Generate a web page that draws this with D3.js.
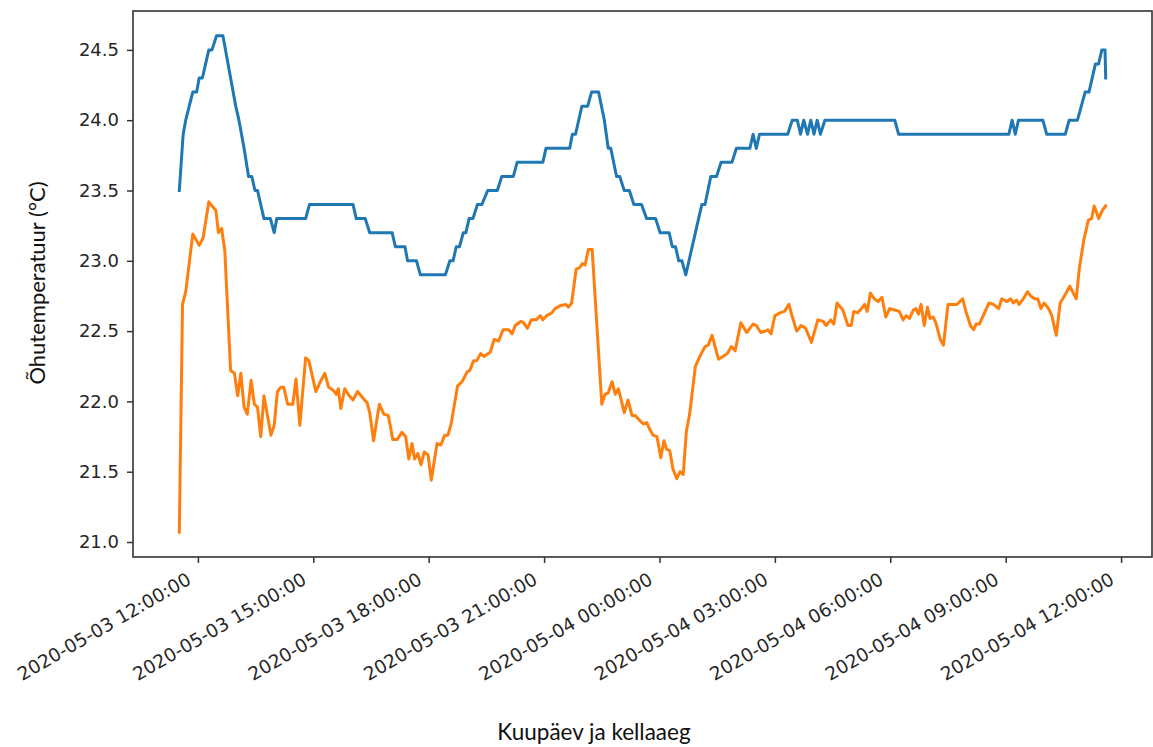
<!DOCTYPE html>
<html>
<head>
<meta charset="utf-8">
<script src="https://cdn.jsdelivr.net/npm/d3@7"></script>
<style>
  html, body { margin: 0; padding: 0; background: #fff; }
  svg { display: block; }
</style>
</head>
<body>
<svg id="chart" width="1153" height="747"></svg>
<script>
// Air temperature, two sensors, 3–4 May 2020
const upperSensor = [
  ["2020-05-03 11:31", 23.5], ["2020-05-03 11:37", 23.9], ["2020-05-03 11:41", 24.0],
  ["2020-05-03 11:52", 24.2], ["2020-05-03 11:58", 24.2], ["2020-05-03 12:02", 24.3],
  ["2020-05-03 12:07", 24.3], ["2020-05-03 12:17", 24.5], ["2020-05-03 12:22", 24.5],
  ["2020-05-03 12:29", 24.6], ["2020-05-03 12:39", 24.6], ["2020-05-03 12:51", 24.3],
  ["2020-05-03 12:59", 24.1], ["2020-05-03 13:04", 24.0], ["2020-05-03 13:12", 23.8],
  ["2020-05-03 13:19", 23.6], ["2020-05-03 13:24", 23.6], ["2020-05-03 13:29", 23.5],
  ["2020-05-03 13:33", 23.5], ["2020-05-03 13:43", 23.3], ["2020-05-03 13:53", 23.3],
  ["2020-05-03 13:59", 23.2], ["2020-05-03 14:03", 23.3], ["2020-05-03 14:48", 23.3],
  ["2020-05-03 14:54", 23.4], ["2020-05-03 16:02", 23.4], ["2020-05-03 16:07", 23.3],
  ["2020-05-03 16:21", 23.3], ["2020-05-03 16:28", 23.2], ["2020-05-03 17:03", 23.2],
  ["2020-05-03 17:08", 23.1], ["2020-05-03 17:23", 23.1], ["2020-05-03 17:27", 23.0],
  ["2020-05-03 17:41", 23.0], ["2020-05-03 17:47", 22.9], ["2020-05-03 18:26", 22.9],
  ["2020-05-03 18:33", 23.0], ["2020-05-03 18:38", 23.0], ["2020-05-03 18:43", 23.1],
  ["2020-05-03 18:48", 23.1], ["2020-05-03 18:54", 23.2], ["2020-05-03 18:58", 23.2],
  ["2020-05-03 19:03", 23.3], ["2020-05-03 19:09", 23.3], ["2020-05-03 19:16", 23.4],
  ["2020-05-03 19:23", 23.4], ["2020-05-03 19:32", 23.5], ["2020-05-03 19:47", 23.5],
  ["2020-05-03 19:54", 23.6], ["2020-05-03 20:12", 23.6], ["2020-05-03 20:18", 23.7],
  ["2020-05-03 20:58", 23.7], ["2020-05-03 21:03", 23.8], ["2020-05-03 21:40", 23.8],
  ["2020-05-03 21:44", 23.9], ["2020-05-03 21:49", 23.9], ["2020-05-03 21:59", 24.1],
  ["2020-05-03 22:08", 24.1], ["2020-05-03 22:14", 24.2], ["2020-05-03 22:25", 24.2],
  ["2020-05-03 22:34", 24.0], ["2020-05-03 22:40", 23.8], ["2020-05-03 22:44", 23.8],
  ["2020-05-03 22:53", 23.6], ["2020-05-03 22:58", 23.6], ["2020-05-03 23:05", 23.5],
  ["2020-05-03 23:13", 23.5], ["2020-05-03 23:20", 23.4], ["2020-05-03 23:32", 23.4],
  ["2020-05-03 23:40", 23.3], ["2020-05-03 23:54", 23.3], ["2020-05-04 00:01", 23.2],
  ["2020-05-04 00:15", 23.2], ["2020-05-04 00:20", 23.1], ["2020-05-04 00:25", 23.1],
  ["2020-05-04 00:30", 23.0], ["2020-05-04 00:35", 23.0], ["2020-05-04 00:41", 22.9],
  ["2020-05-04 01:06", 23.4], ["2020-05-04 01:11", 23.4], ["2020-05-04 01:20", 23.6],
  ["2020-05-04 01:29", 23.6], ["2020-05-04 01:36", 23.7], ["2020-05-04 01:53", 23.7],
  ["2020-05-04 02:00", 23.8], ["2020-05-04 02:21", 23.8], ["2020-05-04 02:26", 23.9],
  ["2020-05-04 02:31", 23.8], ["2020-05-04 02:36", 23.9], ["2020-05-04 03:20", 23.9],
  ["2020-05-04 03:27", 24.0], ["2020-05-04 03:35", 24.0], ["2020-05-04 03:40", 23.9],
  ["2020-05-04 03:45", 24.0], ["2020-05-04 03:51", 23.9], ["2020-05-04 03:56", 24.0],
  ["2020-05-04 04:01", 23.9], ["2020-05-04 04:06", 24.0], ["2020-05-04 04:11", 23.9],
  ["2020-05-04 04:18", 24.0], ["2020-05-04 06:07", 24.0], ["2020-05-04 06:13", 23.9],
  ["2020-05-04 09:05", 23.9], ["2020-05-04 09:10", 24.0], ["2020-05-04 09:15", 23.9],
  ["2020-05-04 09:20", 24.0], ["2020-05-04 09:58", 24.0], ["2020-05-04 10:04", 23.9],
  ["2020-05-04 10:33", 23.9], ["2020-05-04 10:39", 24.0], ["2020-05-04 10:52", 24.0],
  ["2020-05-04 11:04", 24.2], ["2020-05-04 11:10", 24.2], ["2020-05-04 11:20", 24.4],
  ["2020-05-04 11:25", 24.4], ["2020-05-04 11:30", 24.5], ["2020-05-04 11:35", 24.5],
  ["2020-05-04 11:36", 24.3]
];

const lowerSensor = [
  ["2020-05-03 11:31", 21.07], ["2020-05-03 11:36", 22.69], ["2020-05-03 11:41", 22.78],
  ["2020-05-03 11:52", 23.19], ["2020-05-03 12:02", 23.11], ["2020-05-03 12:08", 23.16],
  ["2020-05-03 12:17", 23.42], ["2020-05-03 12:20", 23.40], ["2020-05-03 12:28", 23.36],
  ["2020-05-03 12:32", 23.20], ["2020-05-03 12:37", 23.23], ["2020-05-03 12:42", 23.07],
  ["2020-05-03 12:51", 22.22], ["2020-05-03 12:57", 22.20], ["2020-05-03 13:02", 22.04],
  ["2020-05-03 13:07", 22.20], ["2020-05-03 13:12", 21.96], ["2020-05-03 13:17", 21.91],
  ["2020-05-03 13:23", 22.15], ["2020-05-03 13:28", 21.98], ["2020-05-03 13:33", 21.96],
  ["2020-05-03 13:38", 21.75], ["2020-05-03 13:43", 22.04], ["2020-05-03 13:54", 21.76],
  ["2020-05-03 13:59", 21.83], ["2020-05-03 14:04", 22.07], ["2020-05-03 14:09", 22.10],
  ["2020-05-03 14:14", 22.10], ["2020-05-03 14:20", 21.98], ["2020-05-03 14:28", 21.98],
  ["2020-05-03 14:33", 22.16], ["2020-05-03 14:39", 21.83], ["2020-05-03 14:48", 22.31],
  ["2020-05-03 14:53", 22.29], ["2020-05-03 15:04", 22.07], ["2020-05-03 15:11", 22.14],
  ["2020-05-03 15:18", 22.20], ["2020-05-03 15:24", 22.10], ["2020-05-03 15:31", 22.08],
  ["2020-05-03 15:36", 22.05], ["2020-05-03 15:39", 22.09], ["2020-05-03 15:43", 21.95],
  ["2020-05-03 15:49", 22.09], ["2020-05-03 15:56", 22.04], ["2020-05-03 16:02", 22.01],
  ["2020-05-03 16:09", 22.07], ["2020-05-03 16:20", 22.01], ["2020-05-03 16:24", 21.99],
  ["2020-05-03 16:28", 21.92], ["2020-05-03 16:34", 21.72], ["2020-05-03 16:43", 21.98],
  ["2020-05-03 16:50", 21.91], ["2020-05-03 16:57", 21.90], ["2020-05-03 17:04", 21.73],
  ["2020-05-03 17:11", 21.73], ["2020-05-03 17:18", 21.78], ["2020-05-03 17:24", 21.75],
  ["2020-05-03 17:29", 21.59], ["2020-05-03 17:34", 21.70], ["2020-05-03 17:38", 21.59],
  ["2020-05-03 17:43", 21.63], ["2020-05-03 17:48", 21.55], ["2020-05-03 17:53", 21.64],
  ["2020-05-03 17:59", 21.62], ["2020-05-03 18:04", 21.44], ["2020-05-03 18:13", 21.70],
  ["2020-05-03 18:19", 21.69], ["2020-05-03 18:25", 21.76], ["2020-05-03 18:30", 21.76],
  ["2020-05-03 18:35", 21.84], ["2020-05-03 18:45", 22.11], ["2020-05-03 18:52", 22.14],
  ["2020-05-03 19:00", 22.21], ["2020-05-03 19:04", 22.22], ["2020-05-03 19:10", 22.29],
  ["2020-05-03 19:15", 22.29], ["2020-05-03 19:21", 22.34], ["2020-05-03 19:26", 22.32],
  ["2020-05-03 19:36", 22.35], ["2020-05-03 19:42", 22.44], ["2020-05-03 19:49", 22.43],
  ["2020-05-03 19:56", 22.51], ["2020-05-03 20:05", 22.51], ["2020-05-03 20:10", 22.48],
  ["2020-05-03 20:15", 22.54], ["2020-05-03 20:24", 22.57], ["2020-05-03 20:28", 22.56],
  ["2020-05-03 20:34", 22.52], ["2020-05-03 20:40", 22.58], ["2020-05-03 20:48", 22.58],
  ["2020-05-03 20:54", 22.61], ["2020-05-03 20:58", 22.58], ["2020-05-03 21:04", 22.61],
  ["2020-05-03 21:12", 22.63], ["2020-05-03 21:17", 22.66], ["2020-05-03 21:25", 22.68],
  ["2020-05-03 21:34", 22.69], ["2020-05-03 21:38", 22.67], ["2020-05-03 21:43", 22.70],
  ["2020-05-03 21:50", 22.94], ["2020-05-03 21:55", 22.95], ["2020-05-03 22:00", 22.98],
  ["2020-05-03 22:04", 22.97], ["2020-05-03 22:09", 23.08], ["2020-05-03 22:15", 23.08],
  ["2020-05-03 22:30", 21.98], ["2020-05-03 22:35", 22.05], ["2020-05-03 22:40", 22.06],
  ["2020-05-03 22:46", 22.14], ["2020-05-03 22:51", 22.05], ["2020-05-03 22:56", 22.09],
  ["2020-05-03 23:05", 21.92], ["2020-05-03 23:11", 22.01], ["2020-05-03 23:17", 21.90],
  ["2020-05-03 23:22", 21.90], ["2020-05-03 23:30", 21.86], ["2020-05-03 23:35", 21.84],
  ["2020-05-03 23:40", 21.85], ["2020-05-03 23:45", 21.80], ["2020-05-03 23:50", 21.76],
  ["2020-05-03 23:56", 21.75], ["2020-05-04 00:02", 21.60], ["2020-05-04 00:07", 21.72],
  ["2020-05-04 00:11", 21.66], ["2020-05-04 00:16", 21.65], ["2020-05-04 00:21", 21.52],
  ["2020-05-04 00:27", 21.45], ["2020-05-04 00:32", 21.50], ["2020-05-04 00:37", 21.48],
  ["2020-05-04 00:42", 21.79], ["2020-05-04 00:47", 21.91], ["2020-05-04 00:56", 22.25],
  ["2020-05-04 01:03", 22.32], ["2020-05-04 01:11", 22.39], ["2020-05-04 01:16", 22.40],
  ["2020-05-04 01:22", 22.47], ["2020-05-04 01:32", 22.30], ["2020-05-04 01:39", 22.32],
  ["2020-05-04 01:46", 22.34], ["2020-05-04 01:52", 22.39], ["2020-05-04 01:58", 22.36],
  ["2020-05-04 02:07", 22.56], ["2020-05-04 02:16", 22.49], ["2020-05-04 02:26", 22.55],
  ["2020-05-04 02:31", 22.54], ["2020-05-04 02:38", 22.49], ["2020-05-04 02:45", 22.50],
  ["2020-05-04 02:49", 22.51], ["2020-05-04 02:54", 22.48], ["2020-05-04 03:00", 22.61],
  ["2020-05-04 03:08", 22.63], ["2020-05-04 03:15", 22.64], ["2020-05-04 03:22", 22.69],
  ["2020-05-04 03:26", 22.62], ["2020-05-04 03:34", 22.50], ["2020-05-04 03:41", 22.54],
  ["2020-05-04 03:48", 22.52], ["2020-05-04 03:57", 22.42], ["2020-05-04 04:07", 22.58],
  ["2020-05-04 04:15", 22.57], ["2020-05-04 04:20", 22.54], ["2020-05-04 04:27", 22.58],
  ["2020-05-04 04:32", 22.55], ["2020-05-04 04:37", 22.70], ["2020-05-04 04:46", 22.65],
  ["2020-05-04 04:54", 22.54], ["2020-05-04 04:59", 22.54], ["2020-05-04 05:03", 22.64],
  ["2020-05-04 05:09", 22.63], ["2020-05-04 05:15", 22.66], ["2020-05-04 05:20", 22.69],
  ["2020-05-04 05:24", 22.64], ["2020-05-04 05:29", 22.77], ["2020-05-04 05:35", 22.73],
  ["2020-05-04 05:41", 22.71], ["2020-05-04 05:47", 22.74], ["2020-05-04 05:53", 22.60],
  ["2020-05-04 05:59", 22.66], ["2020-05-04 06:07", 22.65], ["2020-05-04 06:14", 22.64],
  ["2020-05-04 06:20", 22.58], ["2020-05-04 06:25", 22.61], ["2020-05-04 06:30", 22.59],
  ["2020-05-04 06:36", 22.65], ["2020-05-04 06:40", 22.66], ["2020-05-04 06:44", 22.62],
  ["2020-05-04 06:48", 22.69], ["2020-05-04 06:53", 22.54], ["2020-05-04 06:58", 22.67],
  ["2020-05-04 07:02", 22.59], ["2020-05-04 07:07", 22.60], ["2020-05-04 07:11", 22.56],
  ["2020-05-04 07:18", 22.44], ["2020-05-04 07:23", 22.40], ["2020-05-04 07:30", 22.69],
  ["2020-05-04 07:37", 22.69], ["2020-05-04 07:44", 22.69], ["2020-05-04 07:53", 22.73],
  ["2020-05-04 07:58", 22.64], ["2020-05-04 08:05", 22.54], ["2020-05-04 08:10", 22.51],
  ["2020-05-04 08:14", 22.55], ["2020-05-04 08:19", 22.55], ["2020-05-04 08:27", 22.63],
  ["2020-05-04 08:34", 22.70], ["2020-05-04 08:41", 22.69], ["2020-05-04 08:49", 22.66],
  ["2020-05-04 08:54", 22.73], ["2020-05-04 09:02", 22.71], ["2020-05-04 09:08", 22.73],
  ["2020-05-04 09:12", 22.70], ["2020-05-04 09:17", 22.72], ["2020-05-04 09:21", 22.69],
  ["2020-05-04 09:29", 22.74], ["2020-05-04 09:34", 22.78], ["2020-05-04 09:39", 22.75],
  ["2020-05-04 09:45", 22.73], ["2020-05-04 09:50", 22.73], ["2020-05-04 09:55", 22.66],
  ["2020-05-04 10:00", 22.70], ["2020-05-04 10:07", 22.66], ["2020-05-04 10:12", 22.61],
  ["2020-05-04 10:19", 22.47], ["2020-05-04 10:25", 22.70], ["2020-05-04 10:33", 22.76],
  ["2020-05-04 10:40", 22.82], ["2020-05-04 10:50", 22.73], ["2020-05-04 10:55", 22.95],
  ["2020-05-04 11:02", 23.15], ["2020-05-04 11:09", 23.29], ["2020-05-04 11:14", 23.30],
  ["2020-05-04 11:18", 23.39], ["2020-05-04 11:25", 23.30], ["2020-05-04 11:31", 23.36],
  ["2020-05-04 11:36", 23.39]
];

const yTickValues = [21.0, 21.5, 22.0, 22.5, 23.0, 23.5, 24.0, 24.5];
const xTickTimes = [
  "2020-05-03 12:00", "2020-05-03 15:00", "2020-05-03 18:00", "2020-05-03 21:00",
  "2020-05-04 00:00", "2020-05-04 03:00", "2020-05-04 06:00", "2020-05-04 09:00",
  "2020-05-04 12:00"
];
const seriesColors = ["#1f77b4", "#ff7f0e"];
const yTitle = "Õhutemperatuur (°C)";
const xTitle = "Kuupäev ja kellaaeg";

const parseTime = d3.timeParse("%Y-%m-%d %H:%M");
const series = [upperSensor, lowerSensor].map(s => s.map(([t, v]) => ({ t: parseTime(t), v })));

const svg = d3.select("#chart");
const plot = { left: 133, right: 1152, top: 11, bottom: 557 };

// Domains padded by 5% on each side of the data extent
const all = series.flat();
const [t0, t1] = d3.extent(all, d => d.t);
const tPad = (t1 - t0) * 0.05;
const [v0, v1] = d3.extent(all, d => d.v);
const vPad = (v1 - v0) * 0.05;

const x = d3.scaleTime()
  .domain([new Date(+t0 - tPad), new Date(+t1 + tPad)])
  .range([plot.left, plot.right]);
const y = d3.scaleLinear()
  .domain([v0 - vPad, v1 + vPad])
  .range([plot.bottom, plot.top]);

const line = d3.line().x(d => x(d.t)).y(d => y(d.v));

svg.append("g")
  .selectAll("path")
  .data(series)
  .join("path")
  .attr("fill", "none")
  .attr("stroke", (d, i) => seriesColors[i])
  .attr("stroke-width", 3)
  .attr("stroke-linejoin", "round")
  .attr("stroke-linecap", "square")
  .attr("d", line);

// Frame
svg.append("rect")
  .attr("x", plot.left).attr("y", plot.top)
  .attr("width", plot.right - plot.left).attr("height", plot.bottom - plot.top)
  .attr("fill", "none").attr("stroke", "#333").attr("stroke-width", 1.6);

// Y axis
const yAxis = d3.axisLeft(y)
  .tickValues(yTickValues)
  .tickFormat(d3.format(".1f"))
  .tickSize(6)
  .tickPadding(8);
const gy = svg.append("g").attr("transform", `translate(${plot.left},0)`).call(yAxis);
gy.select(".domain").remove();
gy.selectAll(".tick line").attr("stroke", "#333").attr("stroke-width", 1.5);
gy.selectAll(".tick text")
  .attr("fill", "#262626")
  .style("font-family", "'DejaVu Sans', sans-serif")
  .style("font-size", "18px");

// X axis
const xAxis = d3.axisBottom(x)
  .tickValues(xTickTimes.map(parseTime))
  .tickFormat(d3.timeFormat("%Y-%m-%d %H:%M:%S"))
  .tickSize(6);
const gx = svg.append("g").attr("transform", `translate(0,${plot.bottom})`).call(xAxis);
gx.select(".domain").remove();
gx.selectAll(".tick line").attr("stroke", "#333").attr("stroke-width", 1.5);
gx.selectAll(".tick text")
  .attr("fill", "#262626")
  .attr("text-anchor", "end")
  .attr("dy", null)
  .attr("y", 0)
  .attr("transform", "translate(-6,26) rotate(-30)")
  .style("font-family", "'DejaVu Sans', sans-serif")
  .style("font-size", "18.5px");

// Axis titles
svg.append("text")
  .attr("transform", `translate(45,283) rotate(-90)`)
  .attr("text-anchor", "middle")
  .attr("fill", "#111")
  .style("font-family", "Lato, 'Open Sans', sans-serif")
  .style("font-size", "22px")
  .text(yTitle);

svg.append("text")
  .attr("x", 594).attr("y", 740)
  .attr("text-anchor", "middle")
  .attr("fill", "#111")
  .style("font-family", "Lato, 'Open Sans', sans-serif")
  .style("font-size", "22.5px")
  .text(xTitle);
</script>
</body>
</html>
